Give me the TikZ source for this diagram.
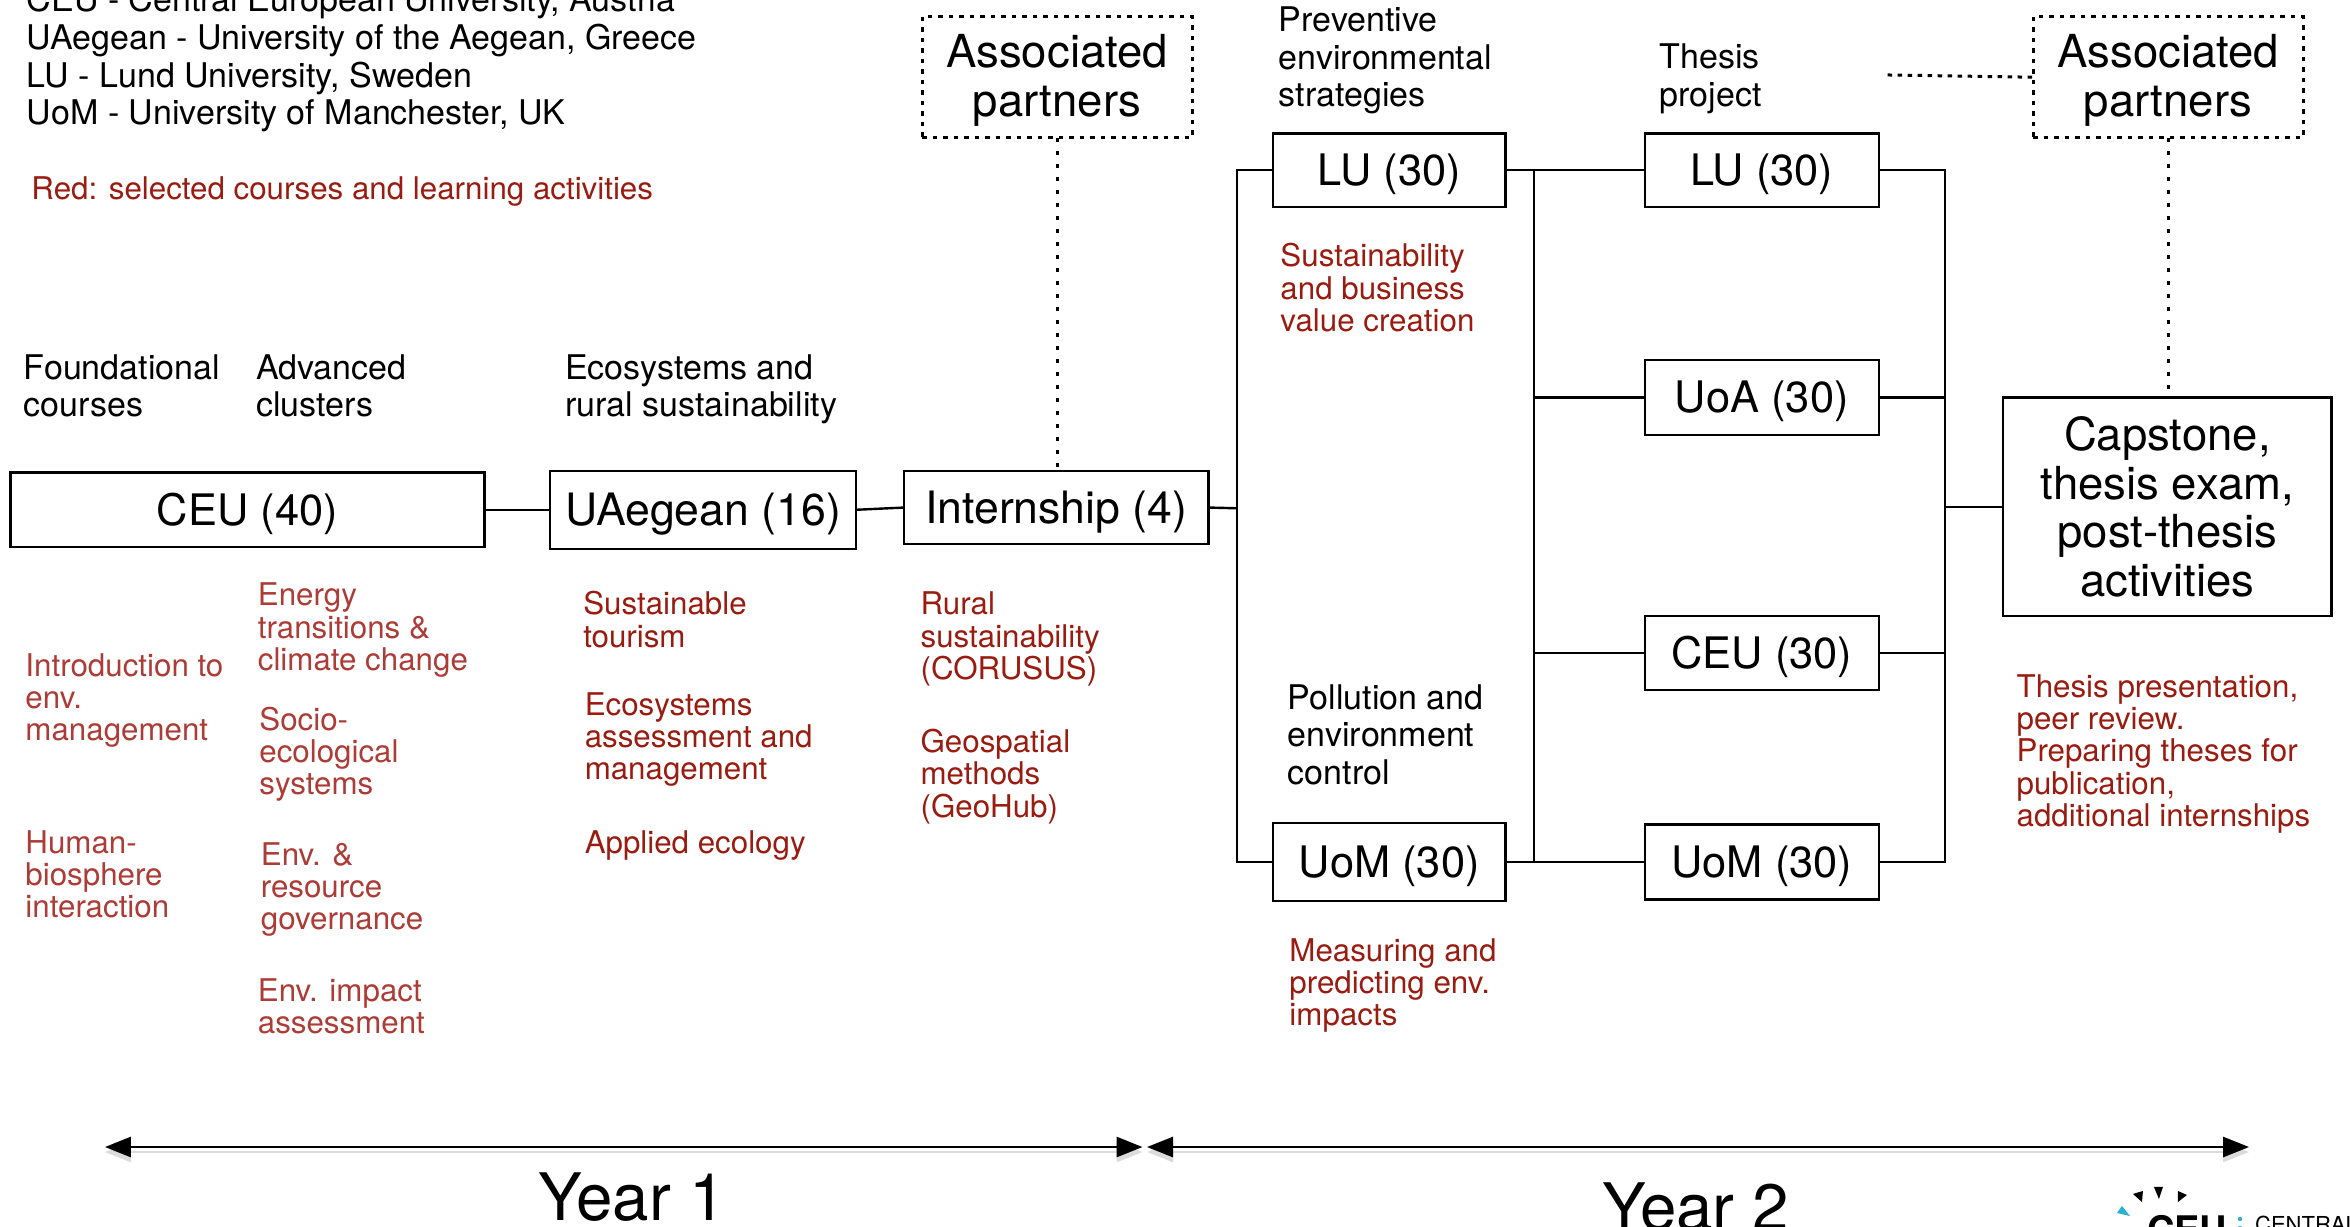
\documentclass[tikz,border=0pt]{standalone}
\usepackage{fontspec}
\setmainfont{TeX Gyre Heros}
\usetikzlibrary{arrows.meta}
\definecolor{dred}{HTML}{9A1B10}
\definecolor{lred}{HTML}{AD3B36}
\definecolor{ceuteal}{HTML}{2BB0D0}
\newcommand{\blk}{\fontsize{34}{37.6}\selectfont}
\newcommand{\rd}{\fontsize{31.3}{32.3}\selectfont}
\newcommand{\bx}{\fontsize{45.5}{48.6}\selectfont}
\newcommand{\bxs}{\fontsize{43.4}{48.6}\selectfont}
\newcommand{\bxm}{\fontsize{44.6}{48.6}\selectfont}
\tikzset{
  x=1.4994pt,y=-1.4994pt,
  boxn/.style={draw=black,line width=2.4pt,inner sep=0pt,outer sep=0pt,align=center,font=\bx},
  boxs/.style={boxn,font=\bxs,text height=31pt,text depth=0pt},
  boxm/.style={boxs,font=\bxm},
  dotbox/.style={boxn,line width=3pt,dash pattern=on 4.5pt off 6pt},
  conn/.style={line width=2.4pt,line join=miter},
  dotconn/.style={line width=3pt,dash pattern=on 4.5pt off 8.5pt},
  dotconnh/.style={line width=3pt,dash pattern=on 4.5pt off 5.5pt},
  span/.style={line width=2.8pt,{Stealth[length=26pt,width=20pt,inset=0pt]}-{Stealth[length=26pt,width=20pt,inset=0pt]}},
  spanshadow/.style={span,draw=black!14,fill=black!14},
  lab/.style={anchor=north west,inner sep=0pt,outer sep=0pt,align=left},
  blab/.style={lab,font=\blk,text=black,yshift=25.5pt},
  rlab/.style={lab,font=\rd,text=dred,yshift=25.5pt},
  llab/.style={rlab,text=lred},
  yr/.style={font=\fontsize{65.5}{70}\selectfont,anchor=base,inner sep=0pt},
}
\newcommand{\st}{\rule{0pt}{27pt}}
\newcommand{\bnode}[7]{%
  \pgfmathsetmacro{\bw}{(#4-#2)*1.4994}%
  \pgfmathsetmacro{\bh}{(#5-#3)*1.4994}%
  \node[#6,minimum width=\bw pt,minimum height=\bh pt] (#1) at ({(#2+#4)/2},{(#3+#5)/2}) {#7};}
\begin{document}
\begin{tikzpicture}
\useasboundingbox (0,0) rectangle (1568,818.33);
\clip (0,0) rectangle (1568,818.33);
\fill[white] (0,0) rectangle (1568,818.33);

\node[blab] (legend) at (18,7) {\st CEU - Central European University, Austria\\UAegean - University of the Aegean, Greece\\LU - Lund University, Sweden\\UoM - University of Manchester, UK};
\node[rlab] (redkey) at (21,132) {\st Red: selected courses and learning activities};

\bnode{ceu}{7}{315}{323}{365}{boxs}{CEU (40)}
\bnode{uae}{367}{314}{571}{366}{boxm}{UAegean (16)}
\bnode{intern}{603}{314}{806}{363}{boxm}{Internship (4)}
\bnode{luA}{849}{89}{1004}{138}{boxs}{LU (30)}
\bnode{uomA}{849}{549}{1004}{601}{boxs}{UoM (30)}
\bnode{luB}{1097}{89}{1253}{138}{boxs}{LU (30)}
\bnode{uoa}{1097}{240}{1253}{290}{boxs}{UoA (30)}
\bnode{ceuB}{1097}{411}{1253}{460}{boxs}{CEU (30)}
\bnode{uomB}{1097}{550}{1253}{600}{boxs}{UoM (30)}
\bnode{cap}{1336}{265}{1555}{411}{boxn}{\rule{0pt}{34pt}Capstone,\\thesis exam,\\post-thesis\\activities}
\bnode{asA}{615}{11}{795}{92}{dotbox}{\rule{0pt}{40pt}Associated\\partners}
\bnode{asB}{1356}{11}{1536}{92}{dotbox}{\rule{0pt}{40pt}Associated\\partners}

\node[blab] (hfound) at (16,252) {\st Foundational\\courses};
\node[blab] (hadv) at (171,252) {\st Advanced\\clusters};
\node[blab] (heco) at (377,252) {\st Ecosystems and\\rural sustainability};
\node[blab] (hprev) at (853,20) {\st Preventive\\environmental\\strategies};
\node[blab] (hthes) at (1107,45) {\st Thesis\\project};
\node[blab] (hpoll) at (859,472) {\st Pollution and\\environment\\control};

\node[llab] (t1) at (172,403) {\st Energy\\transitions \&\\climate change};
\node[llab] (t2) at (17,450) {\st Introduction to\\env.\\management};
\node[llab] (t3) at (173,486) {\st Socio-\\ecological\\systems};
\node[llab] (t4) at (17,568) {\st Human-\\biosphere\\interaction};
\node[llab] (t5) at (174,576) {\st Env. \&\\resource\\governance};
\node[llab] (t6) at (172,667) {\st Env. impact\\assessment};
\node[rlab] (t7) at (389,409) {\st Sustainable\\tourism};
\node[rlab] (t8) at (390,476) {\st Ecosystems\\assessment and\\management};
\node[rlab] (t9) at (390,568) {\st Applied ecology};
\node[rlab] (t10) at (614,409) {\st Rural\\sustainability\\(CORUSUS)};
\node[rlab] (t11) at (614,501) {\st Geospatial\\methods\\(GeoHub)};
\node[rlab] (t12) at (854,177) {\st Sustainability\\and business\\value creation};
\node[rlab] (t13) at (860,640) {\st Measuring and\\predicting env.\\impacts};
\node[rlab] (t14) at (1345,464) {\st Thesis presentation,\\peer review.\\Preparing theses for\\publication,\\additional internships};

\coordinate (jA) at (825,339);
\coordinate (jB) at (1023,114);
\coordinate (jC) at (1023,575);
\coordinate (jD) at (1297,338);
\coordinate (dotstart) at (1259,50);
\draw[conn] (ceu.east) -- (uae.west);
\draw[conn] (uae.east) -- (intern.west);
\draw[conn] (intern.east) -- (jA);
\draw[conn] (luA.west) -| (jA) |- (uomA.west);
\draw[conn] (luA.east) -- (luB.west);
\draw[conn] (uomA.east) -- (uomB.west);
\draw[conn] (jB) -- (jC);
\draw[conn] (uoa.west) -- (uoa.west -| jB);
\draw[conn] (ceuB.west) -- (ceuB.west -| jB);
\draw[conn] (luB.east) -| (jD) |- (uomB.east);
\draw[conn] (uoa.east) -- (uoa.east -| jD);
\draw[conn] (ceuB.east) -- (ceuB.east -| jD);
\draw[conn] (jD) -- (jD -| cap.west);
\draw[dotconn] (asA.south) -- (asA.south |- intern.north);
\draw[dotconn] (asB.south) -- (asB.south |- cap.north);
\draw[dotconnh] (dotstart) -- (asB.west);

\coordinate (yA) at (70,765);
\coordinate (yB) at (762,765);
\coordinate (yC) at (765,765);
\coordinate (yD) at (1500,765);
\draw[spanshadow] ([yshift=-5pt]yA) -- ([yshift=-5pt]yB);
\draw[spanshadow] ([yshift=-5pt]yC) -- ([yshift=-5pt]yD);
\draw[span] (yA) -- (yB);
\draw[span] (yC) -- (yD);
\node[yr] (y1) at (421.5,814) {Year 1};
\node[yr] (y2) at (1131,821) {Year 2};

\begin{scope}[x=1pt,y=-1pt]
\fill (2133,1194) -- (2143,1191) -- (2142,1202) -- cycle;
\fill (2154,1187) -- (2163,1187) -- (2159,1199) -- cycle;
\fill (2178,1191) -- (2187,1195) -- (2178,1202) -- cycle;
\fill[ceuteal] (2122,1206) -- (2130,1216) -- (2117,1213) -- cycle;
\node[anchor=base west,inner sep=0pt,font=\fontsize{38}{40}\selectfont\bfseries] (lg1) at (2147,1244) {CEU};
\fill[ceuteal] (2240,1219) circle (2.2) (2240,1228) circle (2.2);
\node[anchor=base west,inner sep=0pt,font=\fontsize{22}{24}\selectfont] (lg2) at (2255,1233) {CENTRAL};
\end{scope}
\end{tikzpicture}
\end{document}
